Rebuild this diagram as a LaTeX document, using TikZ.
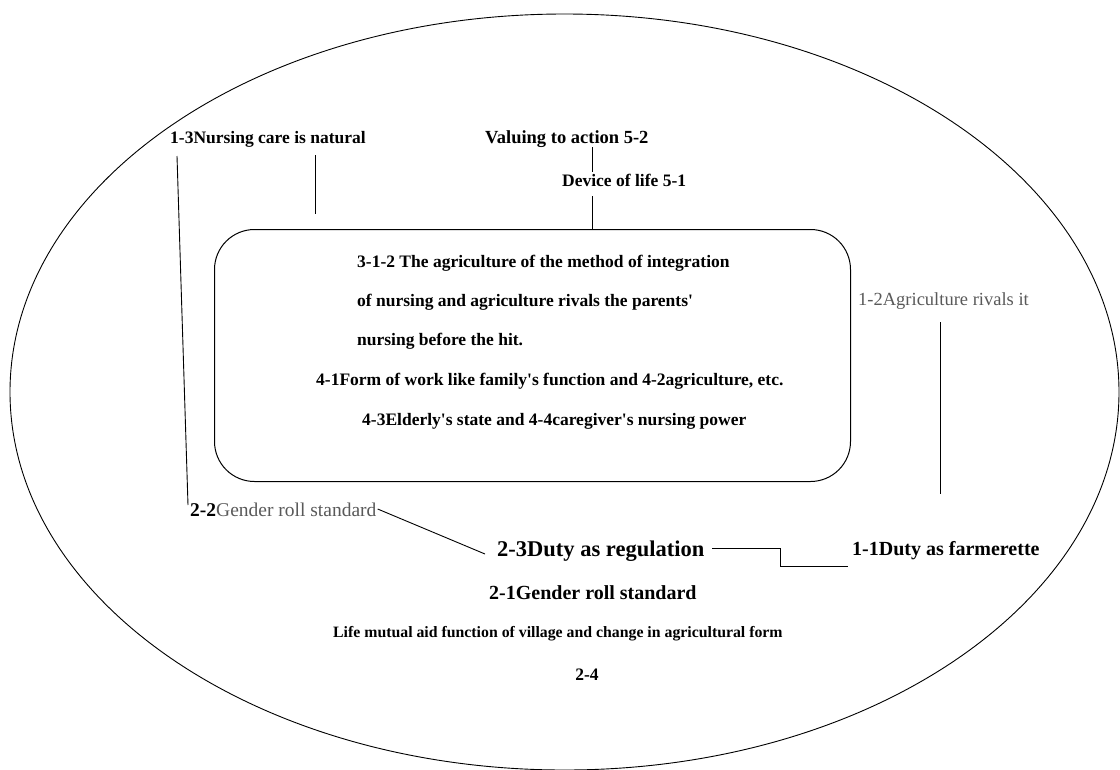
\documentclass[tikz,border=0pt]{standalone}
\usepackage{fontspec}
\setmainfont{Liberation Serif}[Ligatures=TeXOff]
\newcommand\apo{'}
\begin{document}
\begin{tikzpicture}[x=1pt,y=-1pt,
  lbl/.style={anchor=west,inner sep=0pt,font=\bfseries\fontsize{17.5}{20}\selectfont},
  big/.style={anchor=west,inner sep=0pt,font=\bfseries\fontsize{20}{24}\selectfont},
  thin/.style={anchor=west,inner sep=0pt,text=black!65,font=\fontsize{18.5}{22}\selectfont},
  conn/.style={draw=black,line width=0.9pt}]
\useasboundingbox (0,0) rectangle (1120,769);
\draw[line width=0.9pt] (564.5,392) ellipse [x radius=554.5, y radius=378];
\node[draw,line width=1pt,rounded corners=40pt,minimum width=636pt,minimum height=252pt,anchor=north west,inner sep=0pt] (box) at (214,229) {};
\node[lbl] (t1) at (357,263) {3-1-2 The agriculture of the method of integration};
\node[lbl] (t2) at (357,302) {of nursing and agriculture rivals the parents\apo};
\node[lbl] (t3) at (357,341) {nursing before the hit.};
\node[lbl] (t4) at (316,381) {4-1Form of work like family\apo s function and 4-2agriculture, etc.};
\node[lbl] (t5) at (362,421) {4-3Elderly\apo s state and 4-4caregiver\apo s nursing power};
\node[lbl] (n13) at (170,139) {1-3Nursing care is natural};
\node[lbl,font=\bfseries\fontsize{18.5}{22}\selectfont] (v52) at (485,139) {Valuing to action 5-2};
\node[lbl] (d51) at (562,180) {Device of life 5-1};
\node[thin] (a12) at (858,301) {1-2Agriculture rivals it};
\node[anchor=west,inner sep=0pt] (g22) at (190,510) {\fontsize{19.5}{22}\selectfont\textbf{2-2}\textcolor{black!65}{Gender roll standard}};
\node[big,font=\bfseries\fontsize{22.5}{26}\selectfont] (d23) at (497,551) {2-3Duty as regulation};
\node[big] (d11) at (852,551) {1-1Duty as farmerette};
\node[big] (g21) at (489,593) {2-1Gender roll standard};
\node[lbl,font=\bfseries\fontsize{15.8}{19}\selectfont] (life) at (333,634) {Life mutual aid function of village and change in agricultural form};
\node[lbl,anchor=center] (n24) at (587,675) {2-4};
\coordinate (c1) at (592,147);
\coordinate (c2) at (592,172);
\coordinate (c3) at (592,196);
\coordinate (c4) at (315,155);
\coordinate (c5) at (315,214);
\coordinate (c6) at (177,156);
\coordinate (c7) at (188,505);
\coordinate (c8) at (940,322);
\coordinate (c9) at (940,494);
\draw[conn] (c1) -- (c2);
\draw[conn] (c3) -- (c3 |- box.north);
\draw[conn] (c4) -- (c5);
\draw[conn] (c6) -- (c7);
\draw[conn] (c8) -- (c9);
\draw[conn] ([shift={(1,-1)}]g22.east) -- ([shift={(-12,3)}]d23.west);
\draw[conn] ([shift={(8,-3)}]d23.east) -- ++(68,0) |- ([shift={(-4,15)}]d11.west);
\end{tikzpicture}
\end{document}
